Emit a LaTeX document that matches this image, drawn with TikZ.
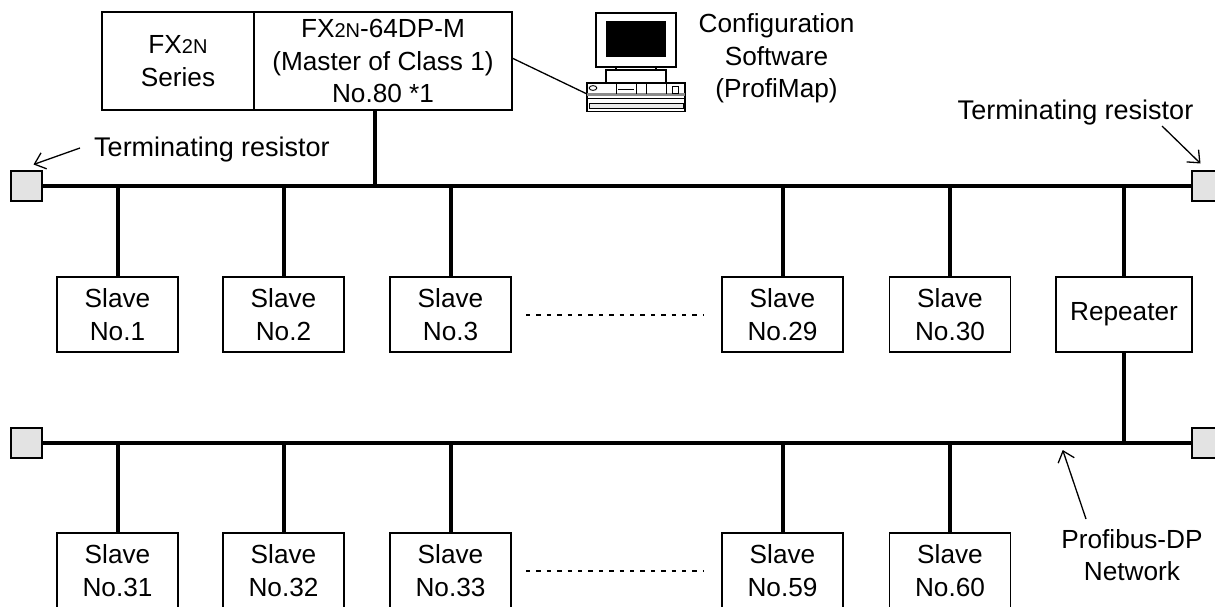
\documentclass[tikz,border=0pt]{standalone}
\usepackage{fontspec}
\setmainfont{Liberation Sans}
\usetikzlibrary{arrows.meta}
\newcommand{\smc}[1]{{\fontsize{20}{20}\selectfont #1}}
\tikzset{
  x=1pt,y=-1pt,
  every node/.style={font=\fontsize{26.2}{32.5}\selectfont,align=center,inner sep=0pt,outer sep=0pt},
  wide/.style={font=\fontsize{27}{32.5}\selectfont},
  boxn/.style={draw=black,line width=1.3pt,minimum width=121pt,minimum height=75pt},
  rep/.style={draw=black,line width=1.3pt,minimum width=136pt,minimum height=75pt},
  term/.style={draw=black,fill=black!11,line width=1.3pt,minimum width=31pt,minimum height=30pt},
  top/.style={draw=black,line width=1.3pt,minimum height=98pt},
  bus/.style={line width=4pt},
  thin1/.style={line width=1.3pt},
  arr/.style={line width=1.3pt,-{Straight Barb[length=10pt,width=17pt,line width=1.3pt]}},
  dots/.style={line width=2pt,dash pattern=on 4.4pt off 6pt},
}
\begin{document}
\begin{tikzpicture}
\useasboundingbox (0,0) rectangle (1215,607);
\fill[white] (0,0) rectangle (1215,607);
% top
\node[top,minimum width=152pt] (fx) at (178,61) {FX\smc{2N}\\Series};
\node[top,minimum width=258pt] (mst) at (383,61) {FX\smc{2N}-64DP-M\\(Master of Class 1)\\No.80 *1};
% terminators
\node[term] (t1) at (26.5,186) {};
\node[term] (t2) at (26.5,443) {};
\node[term,anchor=west] (t3) at (1192,186) {};
\node[term,anchor=west] (t4) at (1192,443) {};
% bus
\draw[bus] (t1.east) -- (t3.west);
\draw[bus] (t2.east) -- (t4.west);
% slaves
\foreach \n/\x/\t in {a/117.5/No.1,b/283.5/No.2,c/450.5/No.3,d/782.5/No.29,e/950/No.30}{
  \node[boxn] (\n) at (\x,314.5) {Slave\\\t};
  \draw[bus] (\n.north) -- (\n.north |- t1.east);
}
\foreach \n/\x/\t in {f/117.5/No.31,g/283.5/No.32,h/450.5/No.33,i/782.5/No.59,j/950/No.60}{
  \node[boxn,anchor=north] (\n) at (\x,533) {Slave\\\t};
  \draw[bus] (\n.north) -- (\n.north |- t2.east);
}
\node[rep] (r) at (1124,314.5) {Repeater};
\draw[bus] (r.north) -- (r.north |- t1.east);
\draw[bus] (r.south) -- (r.south |- t2.east);
\coordinate (md) at (375,110);
\draw[bus] (md) -- (md |- t1.east);
% dotted
\coordinate (da) at (526,314.5);
\coordinate (db) at (704,314.5);
\coordinate (dc) at (526,571);
\coordinate (dd) at (704,571);
\draw[dots] (da) -- (db);
\draw[dots] (dc) -- (dd);
% PC
\node[draw,line width=1.5pt,minimum width=80pt,minimum height=54pt] (mon) at (636,40) {};
\node[fill=black,minimum width=60pt,minimum height=36pt] (scr) at (636,39) {};
\node[draw,line width=1.2pt,minimum width=40pt,minimum height=3.5pt] (neck) at (636,68.7) {};
\node[draw,line width=1.3pt,minimum width=60pt,minimum height=13pt] (base) at (636,76.5) {};
\node[draw,line width=1.5pt,minimum width=98pt,minimum height=28.5pt] (pc) at (636,97.5) {};
\fill[black!45] (587,93.5) rectangle (685,96);
\draw[line width=.9pt,fill=white] (593,88) ellipse (3.8pt and 2.4pt);
\draw[line width=1.4pt] (587,98.5) -- (685,98.5);
\draw[line width=.9pt] (616,84) -- (616,94) (636,84) -- (636,94) (646,84) -- (646,94) (666,84) -- (666,94);
\draw[line width=1pt] (618,90) -- (634,90);
\draw[line width=.9pt] (672.5,86) rectangle (678,93);
\draw[line width=.9pt,fill=black!8] (589,103.5) rectangle (683,108);
% labels
\node (cfg) at (776.5,58.5) {Configuration\\Software\\(ProfiMap)};
\node[anchor=base,wide] (tl) at (212,157) {Terminating resistor};
\node[anchor=base,wide] (tr) at (1075.5,119.5) {Terminating resistor};
\node (pd) at (1132,555) {Profibus-DP\\Network};
% connectors
\draw[thin1] (mst.east |- 0,58) -- (pc.west |- 0,94);
\coordinate (a1) at (80,148);
\draw[arr] (a1) -- (33.5,164.5);
\coordinate (a2) at (1162,126);
\draw[arr] (a2) -- (1200.5,163.5);
\coordinate (a3) at (1086,519);
\draw[arr] (a3) -- (1062.7,450);
\end{tikzpicture}
\end{document}
